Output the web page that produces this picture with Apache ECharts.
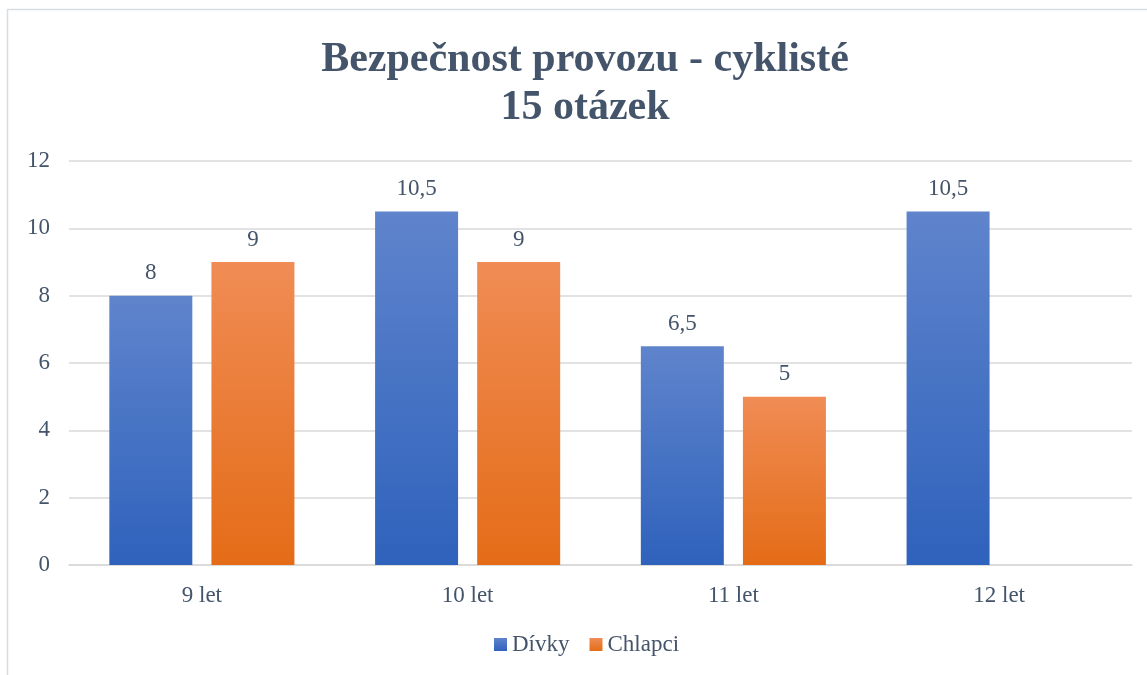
<!DOCTYPE html>
<html>
<head>
<meta charset="utf-8">
<script src="https://cdn.jsdelivr.net/npm/echarts@6/dist/echarts.min.js"></script>
<style>
  html, body { margin: 0; padding: 0; background: #fff; }
  #chart { width: 1147px; height: 675px; }
</style>
</head>
<body>
<div id="chart"></div>
<script>
const categories = ['9 let', '10 let', '11 let', '12 let'];
const divky = [8, 10.5, 6.5, 10.5];
const chlapci = [9, 9, 5, null];
const yTicks = [0, 2, 4, 6, 8, 10, 12];

const chart = echarts.init(document.getElementById('chart'));
const font = '"Liberation Serif", "Times New Roman", serif';
const textColor = '#44546a';

const grad = (top, bottom) => new echarts.graphic.LinearGradient(0, 0, 0, 1, [
  { offset: 0, color: top },
  { offset: 1, color: bottom }
]);

const labelFmt = p => String(p.value).replace('.', ',');

const option = {
  animation: false,
  graphic: [{
    type: 'rect',
    shape: { x: 7.5, y: 9.5, width: 1160, height: 700 },
    style: { fill: 'none', stroke: '#d9dde3', lineWidth: 1.5 }
  }],
  title: {
    text: 'Bezpečnost provozu - cyklisté\n15 otázek',
    left: 580,
    textAlign: 'center',
    top: 31,
    textStyle: {
      fontFamily: font,
      fontSize: 42,
      fontWeight: 'bold',
      color: textColor,
      lineHeight: 48
    }
  },
  legend: {
    bottom: 14,
    left: 489,
    itemWidth: 13,
    itemHeight: 13,
    itemGap: 20,
    icon: 'rect',
    textStyle: { fontFamily: font, fontSize: 23, color: textColor },
    data: ['Dívky', 'Chlapci']
  },
  grid: { left: 69, right: 15, top: 161, bottom: 110, containLabel: false },
  xAxis: {
    type: 'category',
    data: categories,
    axisLine: { lineStyle: { color: '#d9d9d9', width: 1.5 } },
    axisTick: { show: false },
    axisLabel: { fontFamily: font, fontSize: 23, color: textColor, margin: 19 }
  },
  yAxis: {
    type: 'value',
    min: yTicks[0],
    max: yTicks[yTicks.length - 1],
    interval: 2,
    axisLine: { show: false },
    axisTick: { show: false },
    splitLine: { lineStyle: { color: '#d9d9d9', width: 1.5 } },
    axisLabel: { fontFamily: font, fontSize: 23, color: textColor, margin: 19 }
  },
  series: [{
    name: 'Dívky',
    type: 'bar',
    data: divky,
    barWidth: 83,
    barGap: '23%',
    itemStyle: { color: grad('#5f84cc', '#2f62bc') },
    label: {
      show: true, position: 'top', distance: 11,
      fontFamily: font, fontSize: 23, color: textColor,
      formatter: labelFmt
    }
  }, {
    name: 'Chlapci',
    type: 'bar',
    data: chlapci,
    barWidth: 83,
    itemStyle: { color: grad('#f08c55', '#e46c17') },
    label: {
      show: true, position: 'top', distance: 11,
      fontFamily: font, fontSize: 23, color: textColor,
      formatter: labelFmt
    }
  }]
};

chart.setOption(option);
</script>
</body>
</html>
